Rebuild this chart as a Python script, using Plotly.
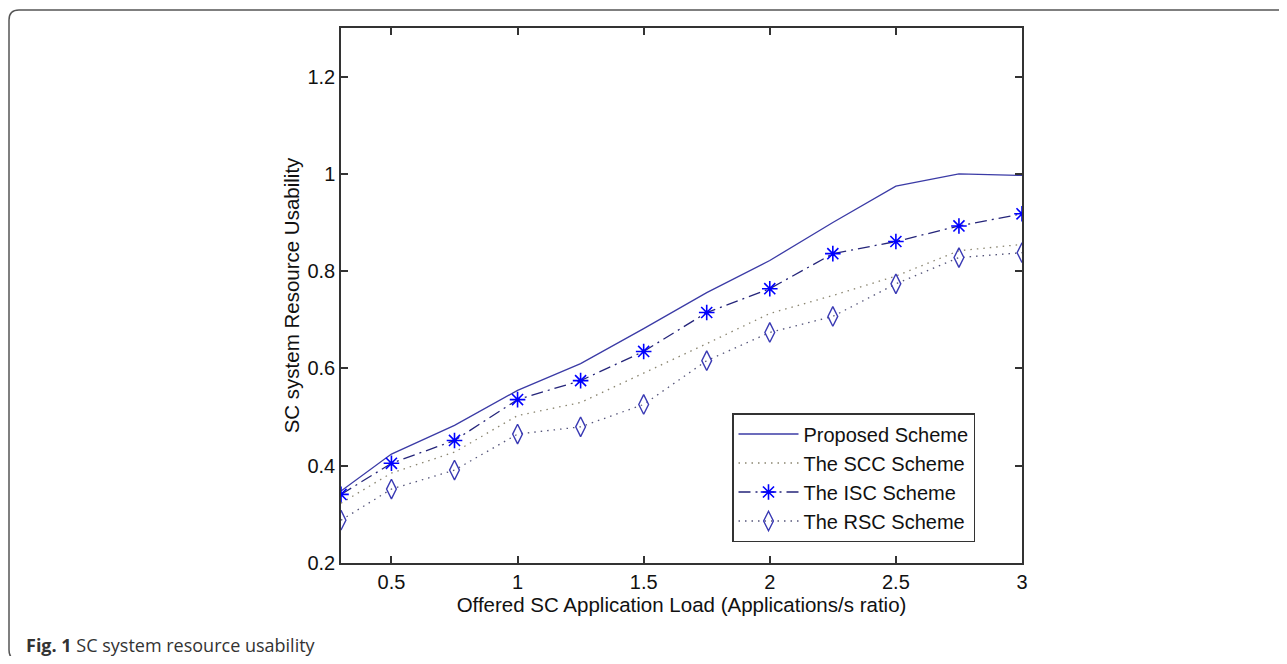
import plotly.graph_objects as go

# ---- data ----
load = [0.3, 0.5, 0.75, 1.0, 1.25, 1.5, 1.75, 2.0, 2.25, 2.5, 2.75, 3.0]
proposed = [0.348, 0.424, 0.483, 0.555, 0.610, 0.682, 0.756, 0.822, 0.900, 0.975, 1.000, 0.997]
scc = [0.323, 0.385, 0.428, 0.503, 0.530, 0.590, 0.651, 0.713, 0.750, 0.790, 0.842, 0.855]
isc = [0.341, 0.405, 0.452, 0.536, 0.575, 0.635, 0.715, 0.764, 0.836, 0.861, 0.893, 0.918]
rsc = [0.288, 0.352, 0.391, 0.465, 0.480, 0.526, 0.616, 0.674, 0.707, 0.774, 0.828, 0.838]

x_ticks = [0.5, 1, 1.5, 2, 2.5, 3]
x_ticklabels = ["0.5", "1", "1.5", "2", "2.5", "3"]
y_ticks = [0.2, 0.4, 0.6, 0.8, 1.0, 1.2]
y_ticklabels = ["0.2", "0.4", "0.6", "0.8", "1", "1.2"]

series_names = ["Proposed Scheme", "The SCC Scheme", "The ISC Scheme", "The RSC Scheme"]
x_title = "Offered SC Application Load (Applications/s ratio)"
y_title = "SC system Resource Usability"

# the page body has an 8px margin, so figure coords = screen coords - 8
OFF = 8
W, H = 1287 - 2 * OFF, 664 - 2 * OFF
L, R, T, B = 341 - OFF, 1022 - OFF, 28 - OFF, 563 - OFF   # plot area (figure px)

FONT = "Liberation Sans, Arial, sans-serif"

fig = go.Figure()
fig.add_trace(go.Scatter(x=load, y=proposed, name=series_names[0], mode="lines",
                         line=dict(color="#3b3ba6", width=1.3)))
fig.add_trace(go.Scatter(x=load, y=scc, name=series_names[1], mode="lines",
                         line=dict(color="#8a8570", width=1.3, dash="1.5px,5px")))
fig.add_trace(go.Scatter(x=load, y=isc, name=series_names[2], mode="lines+markers",
                         line=dict(color="#25257a", width=1.3, dash="12px,5px,2px,5px"),
                         marker=dict(symbol="asterisk-open", size=13, color="#0000ff",
                                     line=dict(color="#0000ff", width=1.6))))
fig.add_trace(go.Scatter(x=load, y=rsc, name=series_names[3], mode="lines+markers",
                         line=dict(color="#55557a", width=1.3, dash="1.5px,5px"),
                         marker=dict(symbol="diamond-tall-open", size=14, color="#3a3ab4",
                                     line=dict(color="#3a3ab4", width=1.4))))

pw, ph = R - L, B - T
def px_x(p):  # screen px -> paper
    return (p - OFF - L) / pw
def px_y(p):
    return (B - (p - OFF)) / ph

# outer rounded frame (figure panel border)
x0, x1 = px_x(9), px_x(1300)
y0, y1 = px_y(660), px_y(10)
rx, ry = 10 / pw, 10 / ph
path = (f"M {x0+rx},{y1} L {x1},{y1} M {x0+rx},{y1} Q {x0},{y1} {x0},{y1-ry} "
        f"L {x0},{y0+ry} Q {x0},{y0} {x0+rx},{y0}")
fig.add_shape(type="path", path=path, xref="paper", yref="paper",
              line=dict(color="#555555", width=1.5), layer="above")

fig.add_annotation(x=px_x(24), y=px_y(645), xref="paper", yref="paper",
                   xanchor="left", yanchor="middle", showarrow=False,
                   text="<b>Fig. 1</b> SC system resource usability",
                   font=dict(family="Open Sans, sans-serif", size=18, color="#333333"))

axis_common = dict(showline=True, linecolor="#333333", linewidth=1.5, mirror="allticks",
                   ticks="inside", ticklen=7, tickcolor="#333333", tickwidth=1.5,
                   showgrid=False, zeroline=False,
                   tickfont=dict(family=FONT, size=20, color="#111111"),
                   title_font=dict(family=FONT, size=20.5, color="#111111"))

fig.update_layout(
    width=W, height=H,
    margin=dict(l=L, r=W - R, t=T, b=H - B),
    paper_bgcolor="white", plot_bgcolor="white",
    xaxis=dict(range=[0.3, 3], tickvals=x_ticks, ticktext=x_ticklabels,
               title=dict(text=x_title, standoff=6), **axis_common),
    yaxis=dict(range=[0.2, 1.3], tickvals=y_ticks, ticktext=y_ticklabels,
               title=dict(text=y_title, standoff=2), **axis_common),
    legend=dict(x=px_x(732), y=px_y(413), xanchor="left", yanchor="top",
                bgcolor="white", bordercolor="#333333", borderwidth=1.5,
                font=dict(family=FONT, size=20, color="#111111"),
                itemwidth=60, tracegroupgap=0, entrywidth=250, entrywidthmode="pixels"),
    showlegend=True,
)

fig.write_html("out.html")
